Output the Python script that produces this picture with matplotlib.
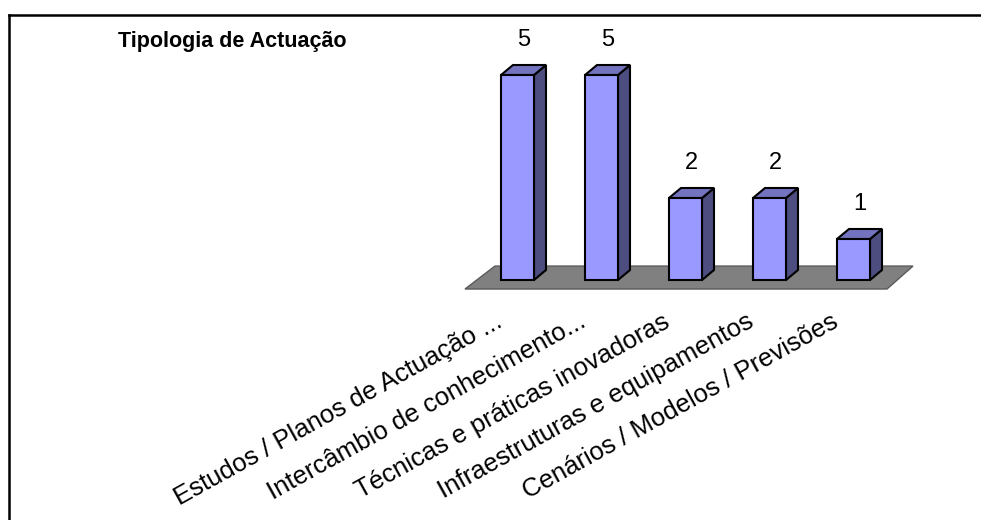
import numpy as np
import matplotlib.pyplot as plt
from matplotlib.patches import Polygon
from matplotlib.lines import Line2D

plt.rcParams['font.family'] = ['Liberation Sans', 'DejaVu Sans']

categories = [
    'Estudos / Planos de Actuação ...',
    'Intercâmbio de conhecimento...',
    'Técnicas e práticas inovadoras',
    'Infraestruturas e equipamentos',
    'Cenários / Modelos / Previsões',
]
values = [5, 5, 2, 2, 1]
title = 'Tipologia de Actuação'

front_col = '#9999FF'
side_col = '#4D4D80'
top_col = '#7373BF'

W, H = 981, 520
fig = plt.figure(figsize=(W / 100, H / 100), dpi=100)

# plot area: one category = 84 px, one unit = 41 px
ax = fig.add_axes([475.5 / W, (H - 280) / H, 420 / W, 205 / H])
ax.set_xlim(-0.5, 4.5)
ax.set_ylim(0, 5)
ax.axis('off')

x = np.arange(len(values))
bw = 33 / 84
ddx = 12 / 84   # depth offset
ddy = 10 / 41

# floor
floor = Polygon([(-0.625, -0.22), (4.399, -0.22), (4.708, 0.34), (-0.268, 0.34)],
                closed=True, facecolor='#808080', edgecolor='#5a5a5a', lw=1,
                clip_on=False, zorder=1)
ax.add_patch(floor)

ax.bar(x, values, width=bw, color=front_col, edgecolor='black', lw=1.5,
       zorder=3, clip_on=False)

for xi, v in zip(x, values):
    r = xi + bw / 2
    l = xi - bw / 2
    side = Polygon([(r, 0), (r + ddx, ddy), (r + ddx, v + ddy), (r, v)],
                   closed=True, facecolor=side_col, edgecolor='black', lw=1.5,
                   clip_on=False, zorder=2)
    top = Polygon([(l, v), (r, v), (r + ddx, v + ddy), (l + ddx, v + ddy)],
                  closed=True, facecolor=top_col, edgecolor='black', lw=1.5,
                  clip_on=False, zorder=2)
    ax.add_patch(side)
    ax.add_patch(top)
    ax.text(xi + ddx / 2, v + 29 / 41, str(v), ha='center', va='baseline',
            fontsize=17, clip_on=False)

for xi, lab in zip(x, categories):
    ax.text(xi - 14 / 84, -46 / 41, lab, rotation=29, rotation_mode='anchor',
            ha='right', va='baseline', fontsize=18.5, clip_on=False)

fig.text(118 / W, 1 - 47 / H, title, fontweight='bold', fontsize=15.5,
         ha='left', va='baseline')

# frame (only top and left visible)
fig.add_artist(Line2D([9 / W, 1], [1 - 15 / H, 1 - 15 / H], color='black', lw=1.8))
fig.add_artist(Line2D([9 / W, 9 / W], [0, 1 - 15 / H], color='black', lw=1.8))

fig.savefig('out.png', dpi=100)
